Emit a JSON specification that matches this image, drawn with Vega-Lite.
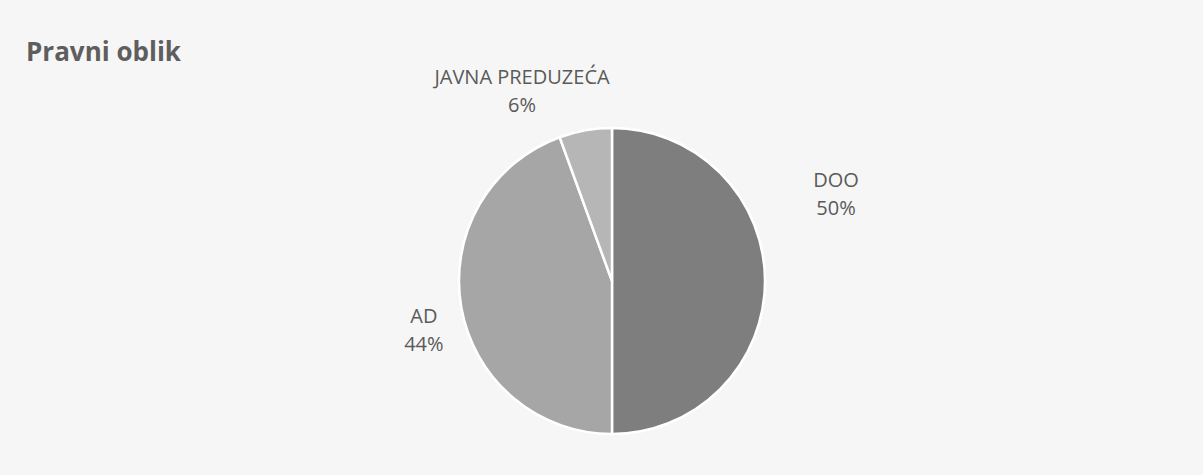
{
  "$schema": "https://vega.github.io/schema/vega-lite/v6.json",
  "width": 1182,
  "height": 388,
  "autosize": "none",
  "padding": {"left": 21, "top": 87, "right": 0, "bottom": 0},
  "background": "#f6f6f6",
  "title": {
    "text": "Pravni oblik",
    "anchor": "start",
    "frame": "group",
    "offset": 2,
    "dx": 5,
    "fontSize": 26,
    "font": "Open Sans",
    "fontWeight": "bold",
    "color": "#5e5e5e"
  },
  "config": {"view": {"stroke": null}},
  "data": {
    "values": [
      {"oblik": "DOO", "broj": 9, "red": 1},
      {"oblik": "AD", "broj": 8, "red": 2},
      {"oblik": "JAVNA PREDUZEĆA", "broj": 1, "red": 3}
    ]
  },
  "transform": [
    {"joinaggregate": [{"op": "sum", "field": "broj", "as": "ukupno"}]},
    {"calculate": "[datum.oblik, format(datum.broj / datum.ukupno, '.0%')]", "as": "natpis"}
  ],
  "encoding": {
    "theta": {"field": "broj", "type": "quantitative", "stack": true},
    "order": {"field": "red", "type": "quantitative"}
  },
  "layer": [
    {
      "mark": {"type": "arc", "outerRadius": 153, "stroke": "#ffffff", "strokeWidth": 2.5},
      "encoding": {
        "color": {
          "field": "oblik",
          "type": "nominal",
          "scale": {"domain": ["DOO", "AD", "JAVNA PREDUZEĆA"], "range": ["#7e7e7e", "#a6a6a6", "#b6b6b6"]},
          "legend": null
        }
      }
    },
    {
      "mark": {
        "type": "text",
        "radius": 190,
        "align": "center",
        "baseline": "middle",
        "lineHeight": 28,
        "font": "Open Sans",
        "fontSize": 20,
        "color": "#5a5a5a",
        "dx": {"expr": "datum.oblik === 'DOO' ? 34 : datum.oblik === 'AD' ? -1 : -57"},
        "dy": {"expr": "datum.oblik === 'DOO' ? -100 : datum.oblik === 'AD' ? 3 : -16"}
      },
      "encoding": {
        "text": {"field": "natpis", "type": "nominal"}
      }
    }
  ]
}
